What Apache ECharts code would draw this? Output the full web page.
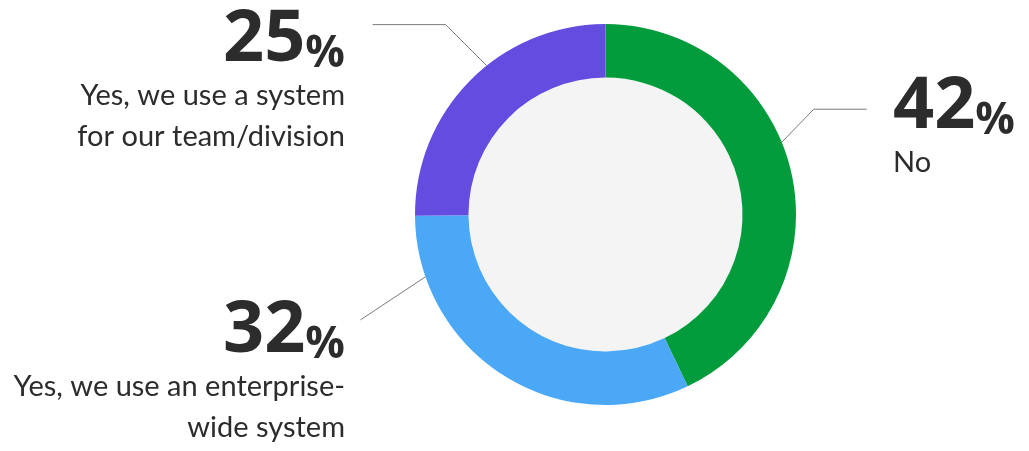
<!DOCTYPE html>
<html>
<head>
<meta charset="utf-8">
<script src="https://cdn.jsdelivr.net/npm/echarts@6/dist/echarts.min.js"></script>
<style>
html,body{margin:0;padding:0;background:#fff;}
#chart{width:1029px;height:451px;}
</style>
</head>
<body>
<div id="chart"></div>
<script>
// ---- data ----
const categories = ['No', 'Yes, we use an enterprise-wide system', 'Yes, we use a system for our team/division'];
const labelTexts = [['No'], ['Yes, we use an enterprise-', 'wide system'], ['Yes, we use a system', 'for our team/division']];
const values = [42.9, 32.0, 25.1];
const pctLabels = ['42', '32', '25'];
const colors = ['#029c3c', '#4aa8f7', '#654ce0'];

// ---- layout ----
const CX = 605.5, CY = 214.5, R_IN = 137, R_OUT = 190.5;
const callouts = [
  { angle: 67.7,  diag: [32, -33],  tail: 53,  align: 'left',  tx: 893, ty: 87 },
  { angle: 250.9, diag: [-65, 43],  tail: 0,   align: 'right', tx: 345, ty: 311 },
  { angle: 321.4, diag: [-41, -41], tail: -73, align: 'right', tx: 345, ty: 20 }
];
const NUMFONT = 'Open Sans';
const FONT = 'Lato';
const TXT = '#2c2c2c';

function linePoints(i) {
  const c = callouts[i];
  const a = c.angle * Math.PI / 180;
  const p0 = [CX + R_OUT * Math.sin(a), CY - R_OUT * Math.cos(a)];
  const p1 = [p0[0] + c.diag[0], p0[1] + c.diag[1]];
  const p2 = [p1[0] + c.tail, p1[1]];
  return [p0, p1, p2];
}

const chart = echarts.init(document.getElementById('chart'));
chart.setOption({
  animation: false,
  series: [
    {
      type: 'pie',
      center: [CX, CY],
      radius: [0, R_IN],
      silent: true,
      label: { show: false },
      labelLine: { show: false },
      data: [{ value: 1, itemStyle: { color: '#f4f4f4' } }]
    },
    {
      type: 'pie',
      center: [CX, CY],
      radius: [R_IN, R_OUT],
      startAngle: 90,
      clockwise: true,
      avoidLabelOverlap: false,
      itemStyle: { borderWidth: 0 },
      emphasis: { disabled: true },
      data: categories.map((name, i) => ({ name: name, value: values[i], itemStyle: { color: colors[i] } })),
      label: {
        show: true,
        formatter: function (p) {
          const i = p.dataIndex;
          const lines = labelTexts[i];
          let s = '{n|' + pctLabels[i] + '}{p|%}\n{a|' + lines[0] + '}';
          if (lines[1]) s += '\n{b|' + lines[1] + '}';
          return s;
        },
        rich: {
          n: { fontFamily: NUMFONT, fontSize: 72, fontWeight: 700, color: TXT, lineHeight: 56, verticalAlign: 'bottom' },
          p: { fontFamily: NUMFONT, fontSize: 44, fontWeight: 700, color: TXT, lineHeight: 56, verticalAlign: 'bottom' },
          a: { fontFamily: FONT, fontSize: 29, color: TXT, lineHeight: 40 },
          b: { fontFamily: FONT, fontSize: 29, color: TXT, lineHeight: 42 }
        }
      },
      labelLine: { show: true, lineStyle: { color: '#7a7a7a', width: 1 } },
      labelLayout: function (params) {
        const i = params.dataIndex;
        const c = callouts[i];
        return {
          x: c.tx,
          y: c.ty,
          align: c.align,
          verticalAlign: 'top',
          labelLinePoints: linePoints(i)
        };
      }
    }
  ]
});
</script>
</body>
</html>
